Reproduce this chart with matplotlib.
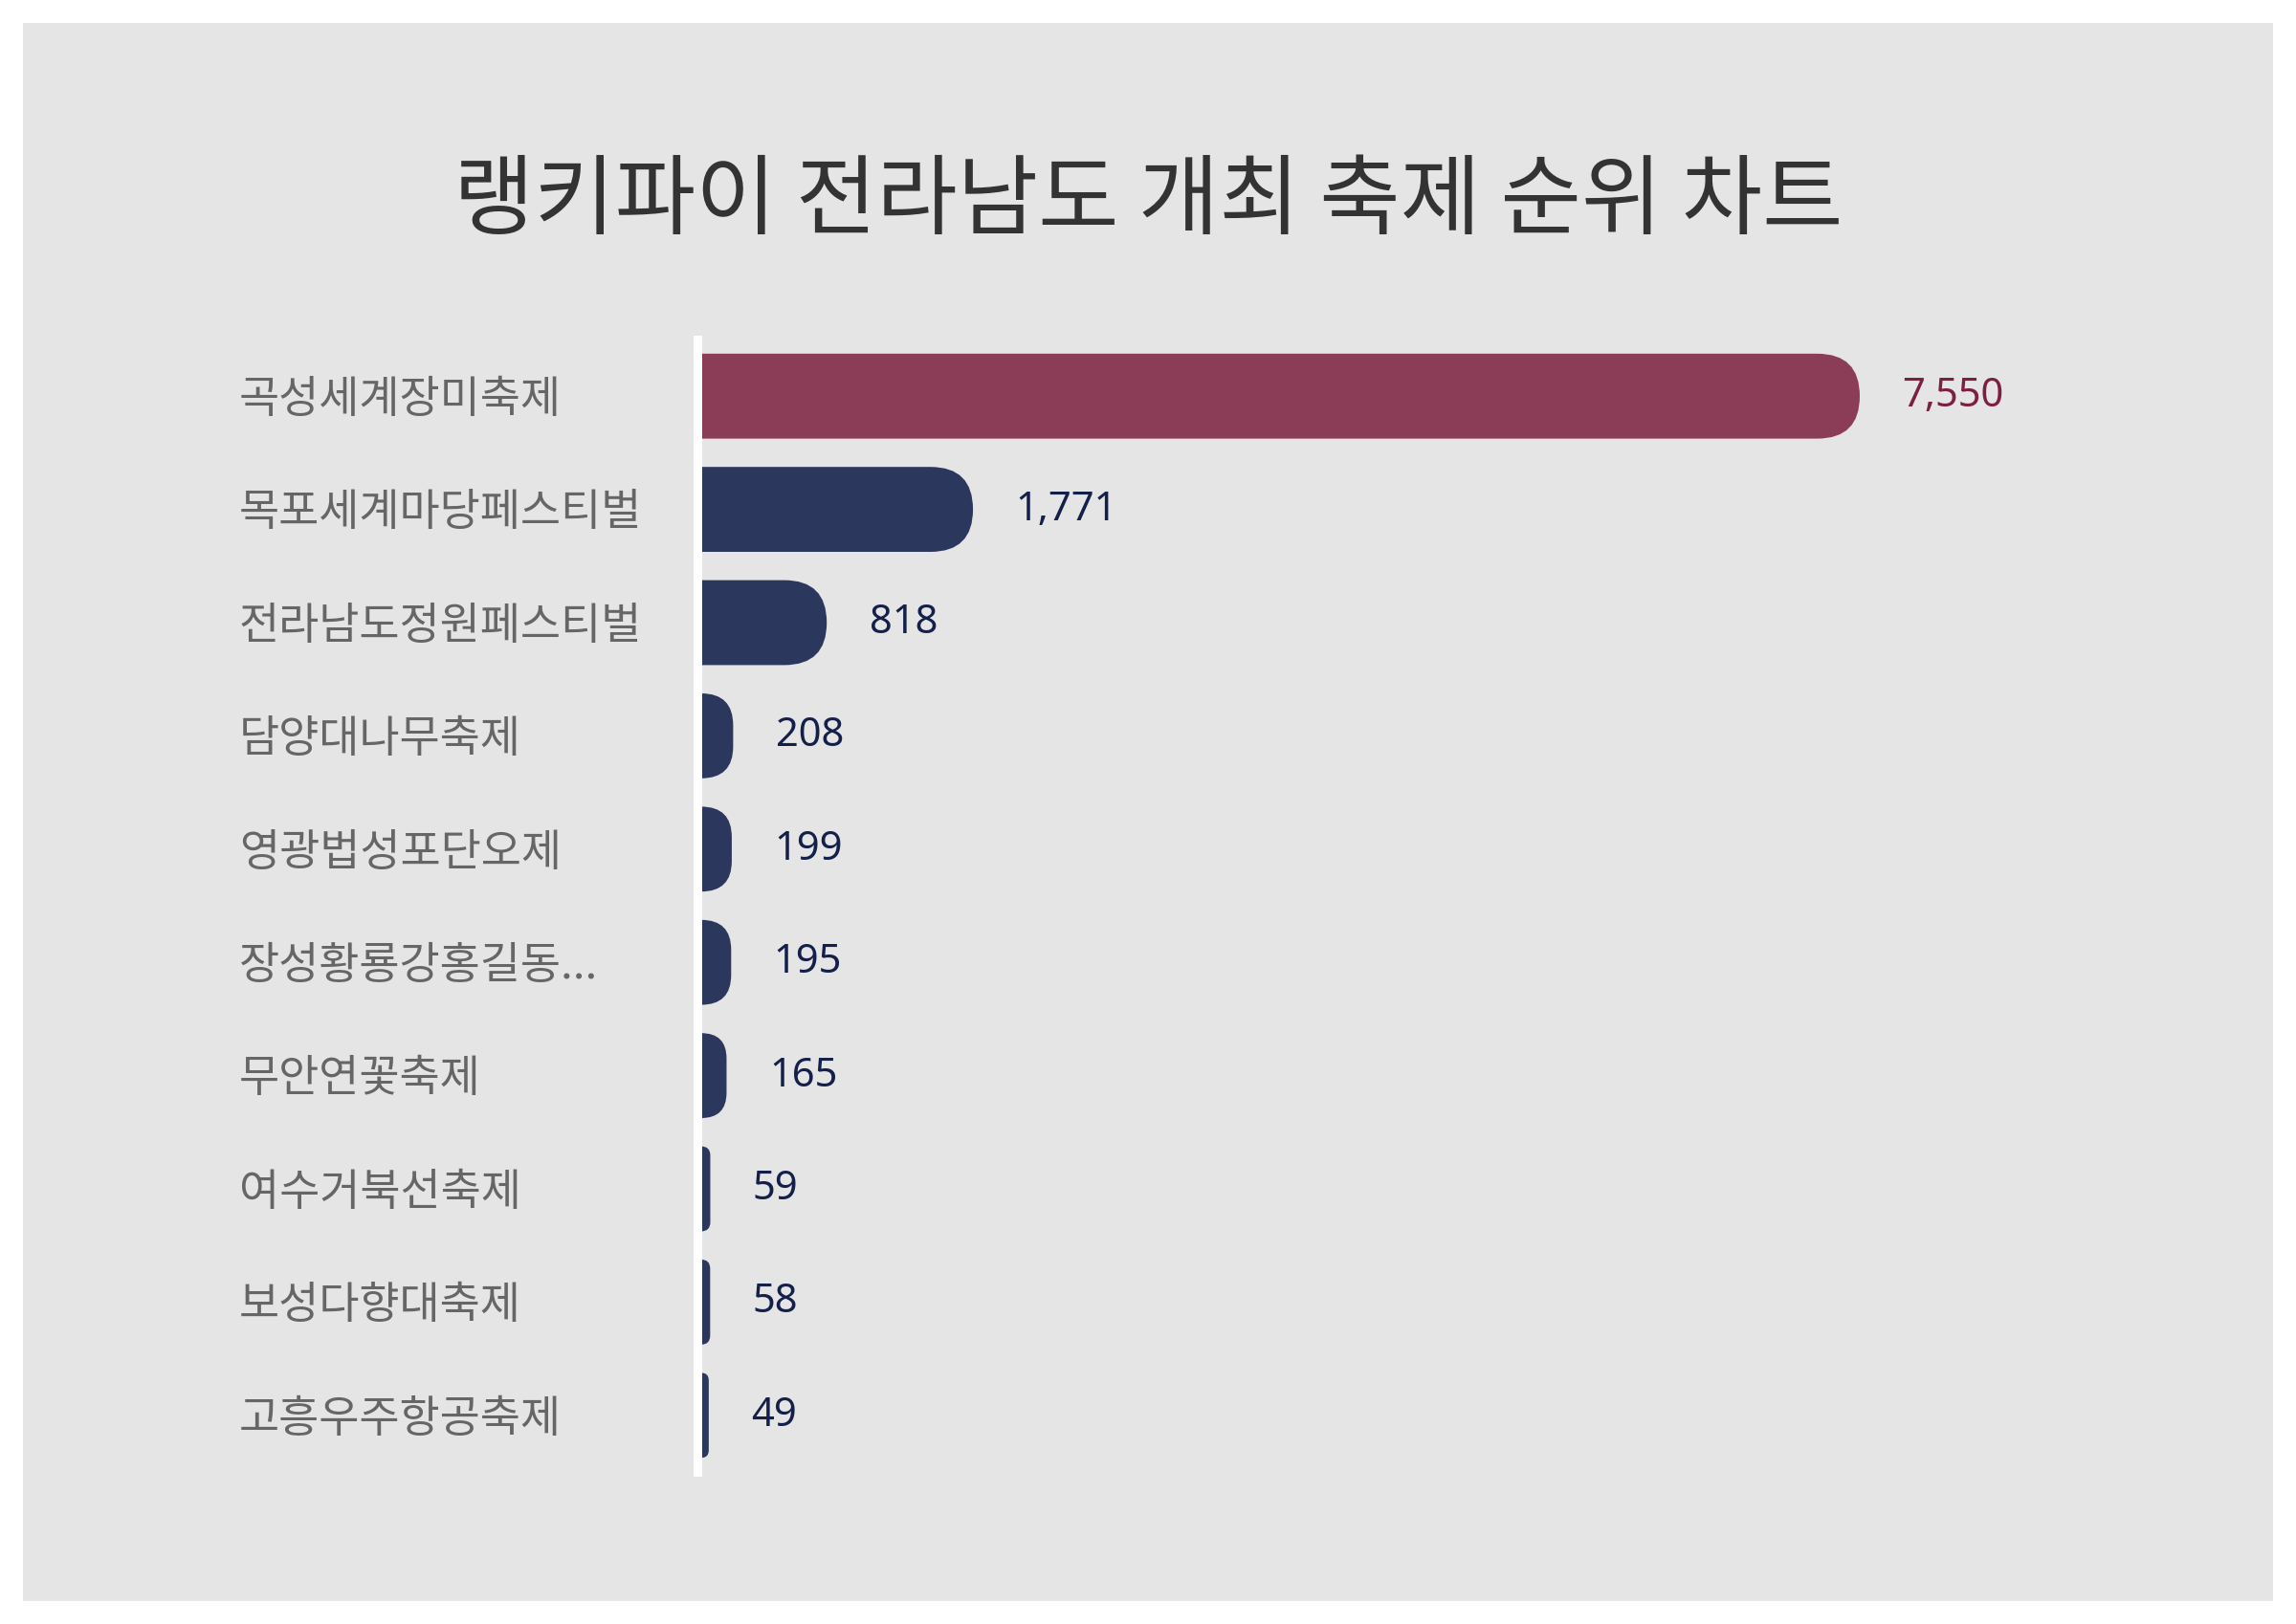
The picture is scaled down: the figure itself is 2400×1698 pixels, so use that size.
import matplotlib
matplotlib.use('Agg')
import matplotlib.pyplot as plt
import matplotlib.transforms as mtransforms
from matplotlib.patches import FancyBboxPatch, Rectangle
from matplotlib.lines import Line2D

plt.rcParams['font.family'] = ['Noto Sans CJK KR', 'DejaVu Sans']

# 데이터
titulo = '랭키파이 전라남도 개최 축제 순위 차트'
festivais = ['곡성세계장미축제', '목포세계마당페스티벌', '전라남도정원페스티벌', '담양대나무축제',
             '영광법성포단오제', '장성황룡강홍길동...', '무안연꽃축제', '여수거북선축제',
             '보성다향대축제', '고흥우주항공축제']
valores = [7550, 1771, 818, 208, 199, 195, 165, 59, 58, 49]

cor_top = '#8B3D58'
cor_barra = '#2C375D'
cor_txt_top = '#7D1F43'
cor_txt = '#14204A'

W, H, DPI = 2400, 1698, 200
fig = plt.figure(figsize=(W / DPI, H / DPI), dpi=DPI, facecolor='white')

# painel cinza
fig.add_artist(Rectangle((24 / W, 1 - 1674 / H), 2352 / W, 1650 / H,
                         transform=fig.transFigure, facecolor='#E5E5E5', edgecolor='none', zorder=0))

fig.text(0.5, 1 - 212 / H, titulo, ha='center', va='center', fontsize=33, color='#333333')

ax_left, ax_right = 733, 2300
ax_top, ax_bottom = 355, 355 + 10 * 118.4
ax = fig.add_axes([ax_left / W, 1 - ax_bottom / H, (ax_right - ax_left) / W, (ax_bottom - ax_top) / H])
ax.set_facecolor('none')
for s in ax.spines.values():
    s.set_visible(False)
ax.set_xticks([])
ax.set_yticks([])

xmax = max(valores) * (ax_right - ax_left) / (1944 - ax_left)
ax.set_xlim(0, xmax)
ax.set_ylim(len(valores) - 0.5, -0.5)

# escalas em pixels para arredondar as pontas
px_x = xmax / (ax_right - ax_left)       # unidades x por pixel
px_y = 10 / (ax_bottom - ax_top)          # unidades y por pixel
altura = 0.75
h_px = altura / px_y

trans_lbl = mtransforms.blended_transform_factory(fig.transFigure, ax.transData)

for i, (nome, v) in enumerate(zip(festivais, valores)):
    cor = cor_top if i == 0 else cor_barra
    w_px = v / px_x
    r_px = min(h_px / 2, w_px)
    r = r_px * px_x
    barra = FancyBboxPatch((-r, i - altura / 2), v + r, altura,
                           boxstyle=f'round,pad=0,rounding_size={r}',
                           mutation_aspect=px_y / px_x,
                           facecolor=cor, edgecolor='none', zorder=2)
    ax.add_patch(barra)
    ax.annotate(f'{v:,}', (v, i), xytext=(16, 0), textcoords='offset points',
                ha='left', va='center', fontsize=15, family=['Noto Sans', 'DejaVu Sans'],
                color=cor_txt_top if i == 0 else cor_txt)
    ax.text(250 / W, i + 0.03, nome, transform=trans_lbl, ha='left', va='center',
            fontsize=16.5, color='#666666')

# linha branca do eixo
fig.add_artist(Line2D([728.5 / W, 728.5 / W], [1 - ax_top / H, 1 - ax_bottom / H],
                      transform=fig.transFigure, color='white', linewidth=9 * 72 / DPI, zorder=5))

fig.savefig('out.png', dpi=DPI, facecolor='white')
